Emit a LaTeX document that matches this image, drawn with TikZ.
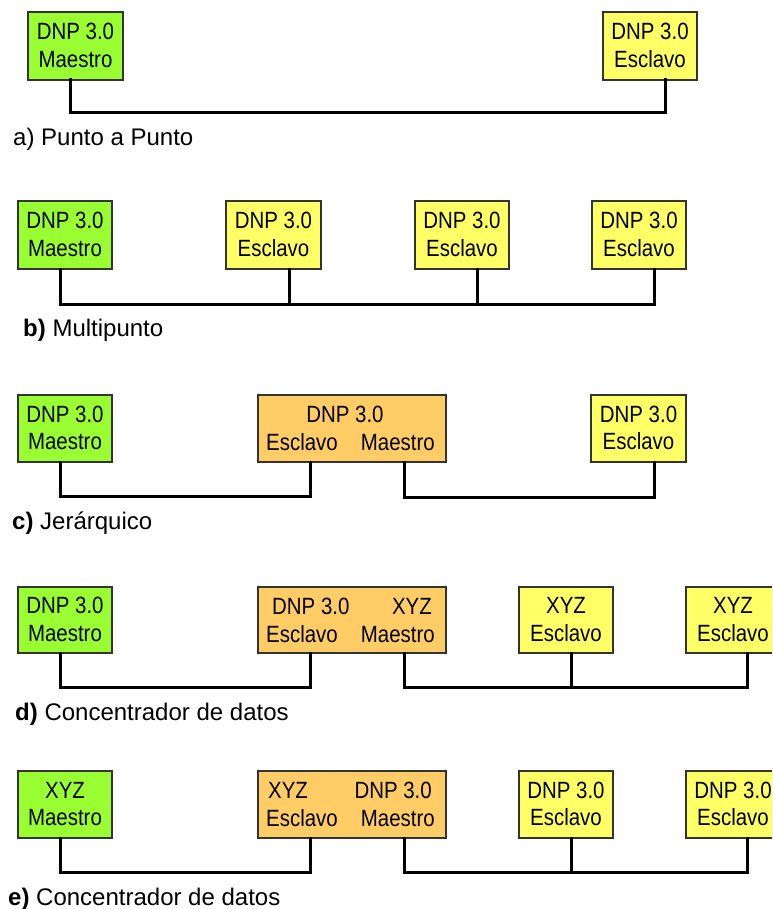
\documentclass[tikz,border=0pt]{standalone}
\usepackage{fontspec}
\setmainfont{Liberation Sans}
\newfontfamily\boxfont[FakeStretch=0.87]{Liberation Sans}
\definecolor{mgreen}{HTML}{99FF33}
\definecolor{myellow}{HTML}{FFFF66}
\definecolor{morange}{HTML}{FFCC66}
\definecolor{boxline}{HTML}{333333}
\newcommand{\lastdp}{\rule[-1pt]{0pt}{1pt}}
\tikzset{
  dev/.style={draw=boxline, line width=1.1pt, inner sep=0pt, outer sep=0pt, anchor=north west,
    minimum width=94pt, minimum height=67pt, align=center,
    font=\boxfont\fontsize{23.5}{27.5}\selectfont},
  master/.style={dev, fill=mgreen},
  slave/.style={dev, fill=myellow},
  conc/.style={dev, fill=morange, minimum width=188pt},
  ctext/.style={inner sep=0pt, font=\boxfont\fontsize{23.5}{27.5}\selectfont},
  bus/.style={line width=3pt, draw=black, line join=miter, line cap=rect},
  captxt/.style={inner sep=0pt, anchor=base west, font=\fontsize{24}{28}\selectfont}
}
\begin{document}
\begin{tikzpicture}[x=1pt,y=-1pt]
\useasboundingbox (0,0) rectangle (772,909);
\clip (0,0) rectangle (772,909);
\fill[white] (0,0) rectangle (772,909);

% ---------- a) Punto a Punto ----------
\node[master, minimum width=95pt, minimum height=68pt] (mA) at (28,12) {DNP 3.0\\Maestro\lastdp};
\node[slave, minimum height=68pt] (sA) at (603,12) {DNP 3.0\\Esclavo\lastdp};
\coordinate (a1) at (70,113);
\coordinate (a2) at (665,113);
\draw[bus] (mA.south -| a1) -- (a1) -- (a2) -- (sA.south -| a2);
\node[captxt] (labA) at (13,146) {a) Punto a Punto};

% ---------- b) Multipunto ----------
\node[master, minimum height=68pt] (mB) at (18,201) {DNP 3.0\\Maestro\lastdp};
\node[slave, minimum width=95pt, minimum height=68pt] (sB1) at (226,201) {DNP 3.0\\Esclavo\lastdp};
\node[slave, minimum height=68pt] (sB2) at (415,201) {DNP 3.0\\Esclavo\lastdp};
\node[slave, minimum height=68pt] (sB3) at (592,201) {DNP 3.0\\Esclavo\lastdp};
\coordinate (b1) at (60,304);
\coordinate (b2) at (289,304);
\coordinate (b3) at (477,304);
\coordinate (b4) at (654,304);
\draw[bus] (mB.south -| b1) -- (b1) -- (b4) -- (sB3.south -| b4);
\draw[bus] (sB1.south -| b2) -- (b2);
\draw[bus] (sB2.south -| b3) -- (b3);
\node[captxt] (labB) at (23,336) {\textbf{b)} Multipunto};

% ---------- c) Jerarquico ----------
\node[master] (mC) at (18,395) {DNP 3.0\\Maestro\lastdp};
\node[conc] (oC) at (258,395) {};
\node[slave, minimum width=95pt] (sC) at (591,395) {DNP 3.0\\Esclavo\lastdp};
\node[ctext, anchor=base] (oC1) at ([shift={(87,27.5)}]oC.north west) {DNP 3.0};
\node[ctext, anchor=base west] (oC2) at ([shift={(8,55)}]oC.north west) {Esclavo};
\node[ctext, anchor=base east] (oC3) at ([shift={(-11,55)}]oC.north east) {Maestro};
\coordinate (c1) at (60,496);
\coordinate (c2) at (310,496);
\coordinate (c3) at (404,497);
\coordinate (c4) at (654,497);
\draw[bus] (mC.south -| c1) -- (c1) -- (c2) -- (oC.south -| c2);
\draw[bus] (oC.south -| c3) -- (c3) -- (c4) -- (sC.south -| c4);
\node[captxt] (labC) at (12,529) {\textbf{c)} Jerárquico};

% ---------- d) Concentrador de datos ----------
\node[master, minimum height=66pt] (mD) at (18,587) {DNP 3.0\\Maestro\lastdp};
\node[conc, minimum height=66pt] (oD) at (258,587) {};
\node[slave, minimum height=66pt] (sD1) at (519,587) {XYZ\\Esclavo\lastdp};
\node[slave, minimum height=66pt] (sD2) at (686,587) {XYZ\\Esclavo\lastdp};
\node[ctext, anchor=base west] (oD1) at ([shift={(14,27.5)}]oD.north west) {DNP 3.0};
\node[ctext, anchor=base east] (oD2) at ([shift={(-14,27.5)}]oD.north east) {XYZ};
\node[ctext, anchor=base west] (oD3) at ([shift={(8,55)}]oD.north west) {Esclavo};
\node[ctext, anchor=base east] (oD4) at ([shift={(-11,55)}]oD.north east) {Maestro};
\coordinate (d1) at (60,687);
\coordinate (d2) at (310,687);
\coordinate (d3) at (404,687);
\coordinate (d4) at (571,687);
\coordinate (d5) at (747,687);
\draw[bus] (mD.south -| d1) -- (d1) -- (d2) -- (oD.south -| d2);
\draw[bus] (oD.south -| d3) -- (d3) -- (d5) -- (sD2.south -| d5);
\draw[bus] (sD1.south -| d4) -- (d4);
\node[captxt] (labD) at (15,720) {\textbf{d)} Concentrador de datos};

% ---------- e) Concentrador de datos ----------
\node[master] (mE) at (18,771) {XYZ\\Maestro\lastdp};
\node[conc] (oE) at (258,771) {};
\node[slave] (sE1) at (519,771) {DNP 3.0\\Esclavo\lastdp};
\node[slave] (sE2) at (686,771) {DNP 3.0\\Esclavo\lastdp};
\node[ctext, anchor=base west] (oE1) at ([shift={(10,27.5)}]oE.north west) {XYZ};
\node[ctext, anchor=base east] (oE2) at ([shift={(-14,27.5)}]oE.north east) {DNP 3.0};
\node[ctext, anchor=base west] (oE3) at ([shift={(8,55)}]oE.north west) {Esclavo};
\node[ctext, anchor=base east] (oE4) at ([shift={(-11,55)}]oE.north east) {Maestro};
\coordinate (e1) at (60,872);
\coordinate (e2) at (310,872);
\coordinate (e3) at (404,872);
\coordinate (e4) at (571,872);
\coordinate (e5) at (747,872);
\draw[bus] (mE.south -| e1) -- (e1) -- (e2) -- (oE.south -| e2);
\draw[bus] (oE.south -| e3) -- (e3) -- (e5) -- (sE2.south -| e5);
\draw[bus] (sE1.south -| e4) -- (e4);
\node[captxt] (labE) at (8,905) {\textbf{e)} Concentrador de datos};
\end{tikzpicture}
\end{document}
